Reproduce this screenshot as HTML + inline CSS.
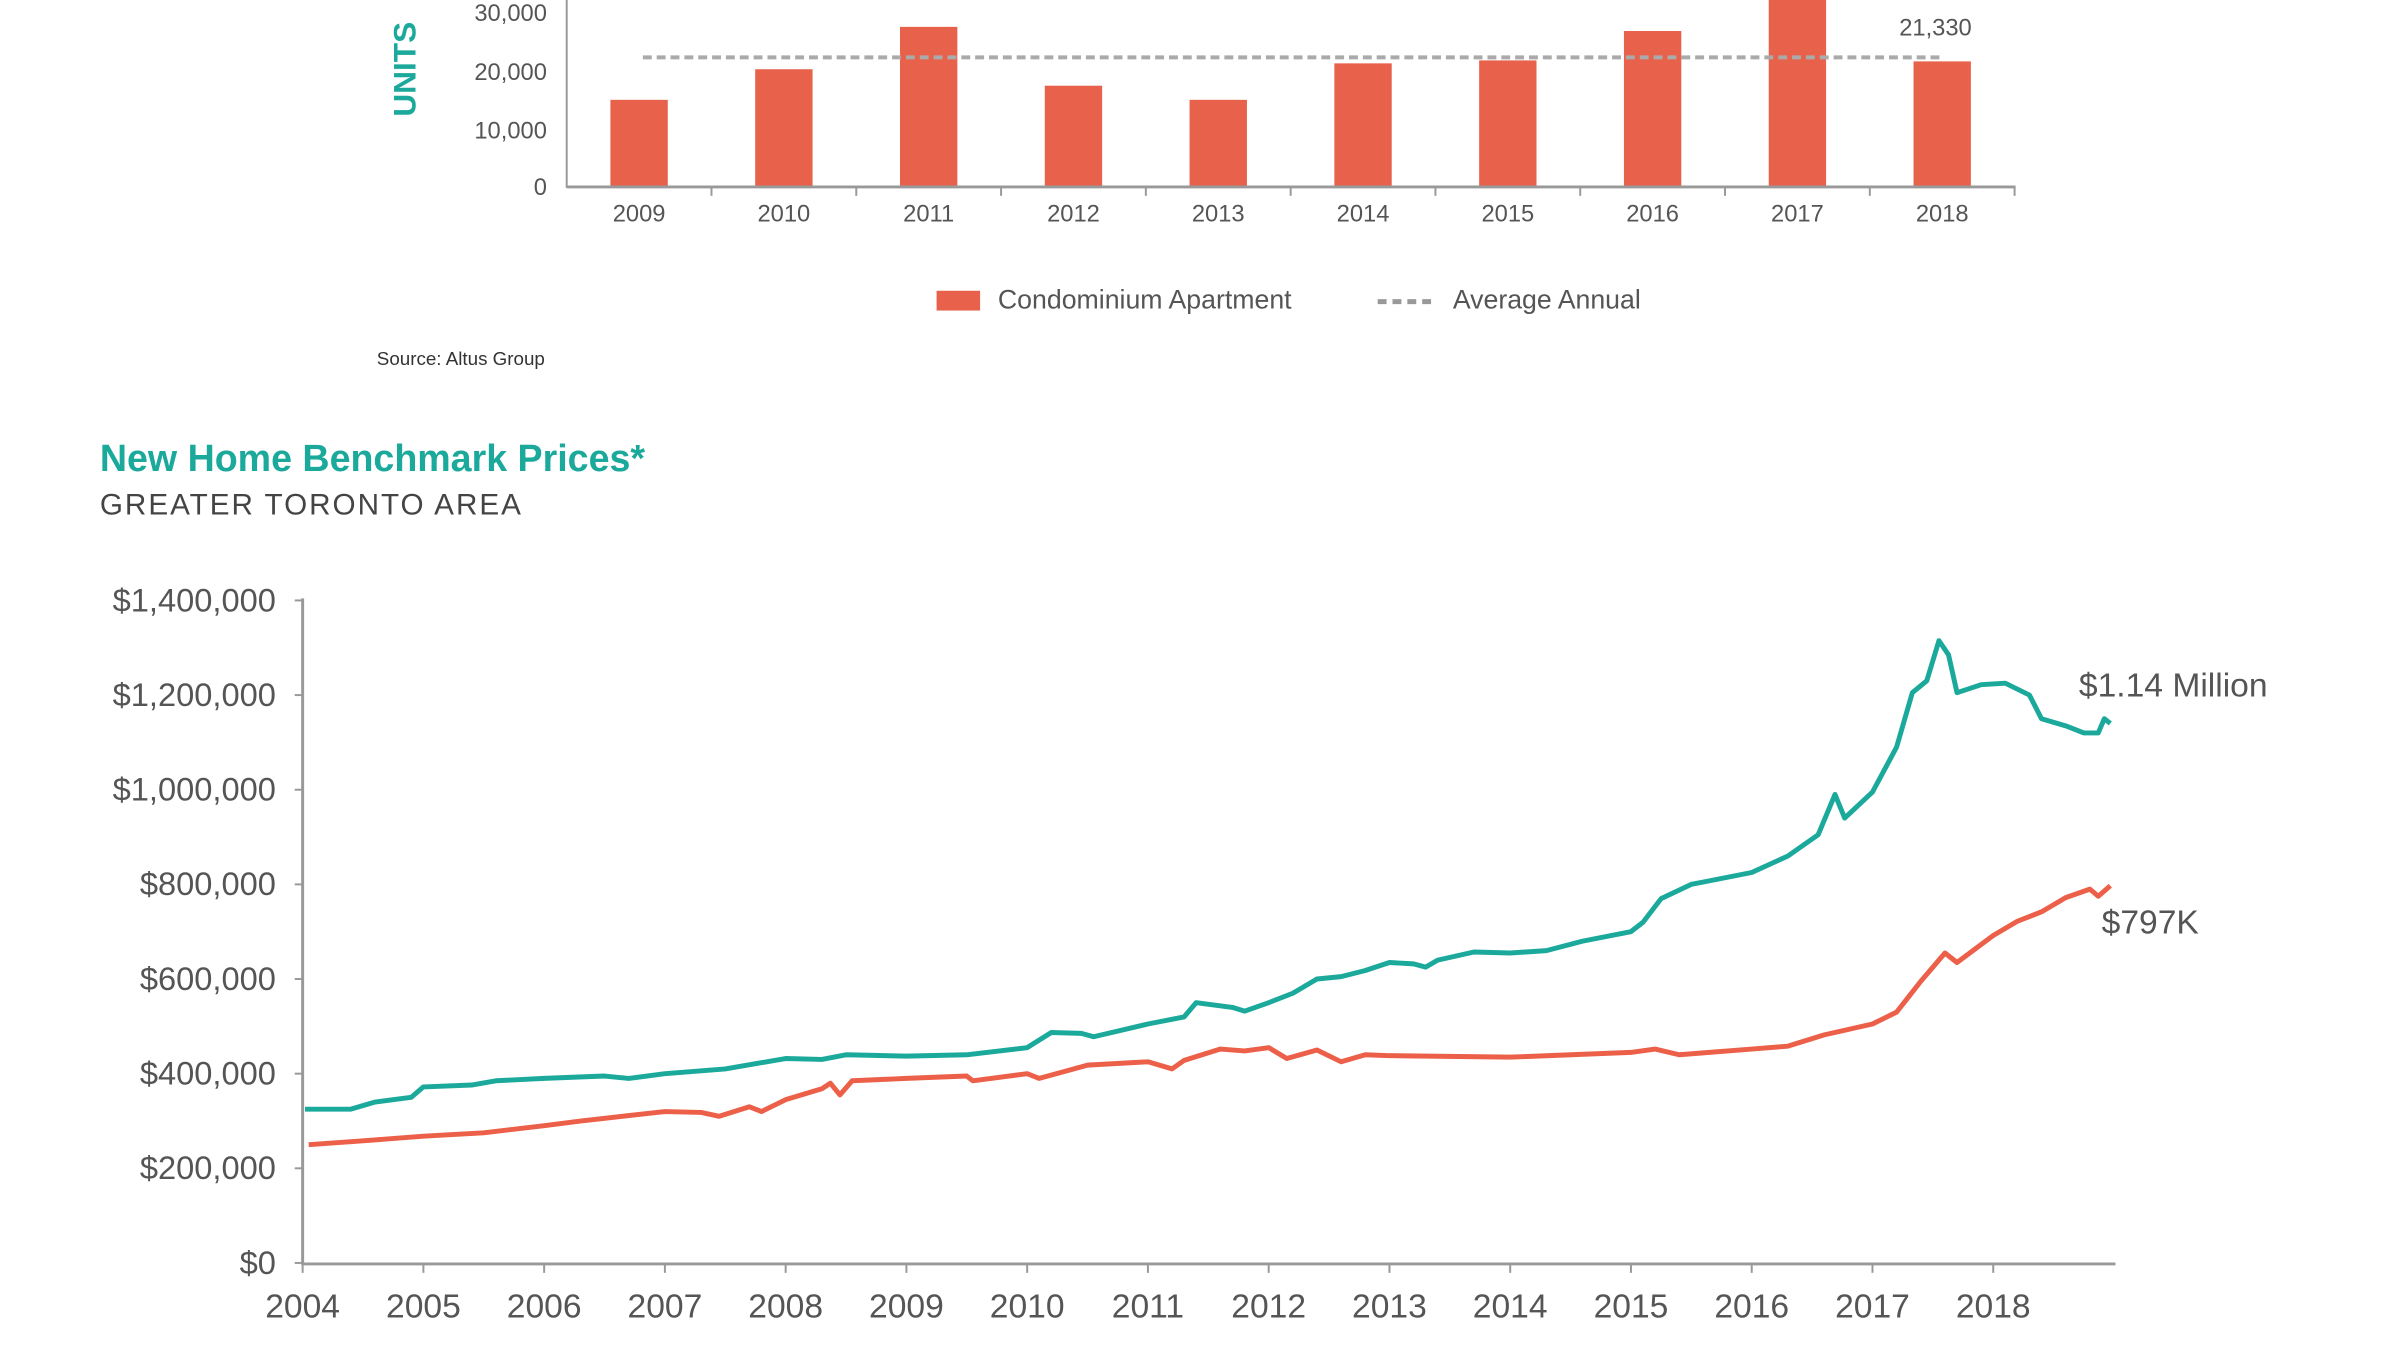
<!DOCTYPE html>
<html><head><meta charset="utf-8"><style>
html,body{margin:0;padding:0;background:#fff;}
svg{display:block;font-family:"Liberation Sans",sans-serif;}
</style></head><body>
<svg width="2400" height="1350" viewBox="0 0 2400 1350" xmlns="http://www.w3.org/2000/svg">
<rect width="2400" height="1350" fill="#fff"/>
<g transform="scale(0.989)">
<text x="420" y="70" transform="rotate(-90 420 70)" text-anchor="middle" fill="#1aa99a" font-size="32" font-weight="bold">UNITS</text>
<g fill="#555" font-size="24" text-anchor="end">
<text x="553" y="21">30,000</text><text x="553" y="81">20,000</text><text x="553" y="140">10,000</text><text x="553" y="197">0</text>
</g>
<line x1="573" y1="0" x2="573" y2="190" stroke="#999" stroke-width="2"/>
<g id="bars" fill="#e8614b"></g>
<line x1="573" y1="189" x2="2038" y2="189" stroke="#999" stroke-width="3"/>
<line x1="650" y1="58" x2="1966" y2="58" stroke="#aaa" stroke-width="4" stroke-dasharray="9,5"/>
<text x="1957" y="36" text-anchor="middle" fill="#555" font-size="24">21,330</text>
<g id="byears" fill="#555" font-size="24" text-anchor="middle"></g>
<rect x="947" y="294" width="44" height="20" fill="#e8614b"/>
<text x="1009" y="312" fill="#555" font-size="27">Condominium Apartment</text>
<line x1="1393" y1="305" x2="1452" y2="305" stroke="#999" stroke-width="5" stroke-dasharray="9,6"/>
<text x="1469" y="312" fill="#555" font-size="27">Average Annual</text>
<text x="381" y="369" fill="#333" font-size="19">Source: Altus Group</text>
<text x="101" y="476" fill="#1aa99a" font-size="38" font-weight="bold">New Home Benchmark Prices*</text>
<text x="101" y="520" fill="#444" font-size="30" letter-spacing="2">GREATER TORONTO AREA</text>
<g id="ylab" fill="#555" font-size="33" text-anchor="end"></g>
<line x1="306" y1="605" x2="306" y2="1279" stroke="#999" stroke-width="3"/>
<line x1="306" y1="1278" x2="2139" y2="1278" stroke="#999" stroke-width="3"/>
<g id="xlab" fill="#555" font-size="34" text-anchor="middle"></g>
<polyline id="teal" fill="none" stroke="#1aa99a" stroke-width="5" stroke-linejoin="round"/>
<polyline id="red" fill="none" stroke="#ec5f48" stroke-width="5" stroke-linejoin="round"/>
<text x="2102" y="704" fill="#555" font-size="34">$1.14 Million</text>
<text x="2125" y="944" fill="#555" font-size="34">$797K</text>
</g>
</svg>
<script>
var NS="http://www.w3.org/2000/svg";
function el(p,t,a,txt){var e=document.createElementNS(NS,t);for(var k in a)e.setAttribute(k,a[k]);if(txt!==undefined)e.textContent=txt;document.getElementById(p).appendChild(e);}
var vals=[14800,20000,27200,17200,14800,21000,21500,26500,40000,21330];
for(var i=0;i<10;i++){var cx=573+146.4*(i+0.5);var bt=189-vals[i]*0.00595;if(bt<0)bt=0;
el("bars","rect",{x:cx-29,y:bt,width:58,height:189-bt});
el("byears","text",{x:cx,y:224},""+(2009+i));
el("bars","line",{x1:573+146.4*(i+1),y1:189,x2:573+146.4*(i+1),y2:198,stroke:"#999","stroke-width":2});}
var yl=["$0","$200,000","$400,000","$600,000","$800,000","$1,000,000","$1,200,000","$1,400,000"];
for(var i=0;i<8;i++){var y=1277-i*95.7;el("ylab","text",{x:279,y:y+11},yl[i]);el("ylab","line",{x1:298,y1:y,x2:306,y2:y,stroke:"#999","stroke-width":2});}
for(var i=0;i<15;i++){var x=306+i*122.1;el("xlab","text",{x:x,y:1332},""+(2004+i));el("xlab","line",{x1:x,y1:1278,x2:x,y2:1287,stroke:"#999","stroke-width":2});}
function pts(d){return d.map(function(p){return (306+(p[0]-2004)*122.1).toFixed(1)+","+(1277-p[1]*0.4785).toFixed(1);}).join(" ");}
var teal=[[2004.02,325],[2004.4,325],[2004.6,340],[2004.9,350],[2005.0,372],[2005.4,376],[2005.6,385],[2006,390],[2006.5,395],[2006.7,390],[2007,400],[2007.5,410],[2008,432],[2008.3,430],[2008.5,440],[2009,437],[2009.5,440],[2010,455],[2010.2,487],[2010.45,485],[2010.55,478],[2011,505],[2011.3,520],[2011.4,550],[2011.7,540],[2011.8,532],[2012,550],[2012.2,570],[2012.4,600],[2012.6,605],[2012.8,618],[2013,635],[2013.2,632],[2013.3,625],[2013.4,640],[2013.7,657],[2014,655],[2014.3,660],[2014.6,680],[2015,700],[2015.1,720],[2015.25,770],[2015.5,800],[2015.6,805],[2016,825],[2016.3,860],[2016.55,905],[2016.69,990],[2016.77,940],[2017,995],[2017.2,1090],[2017.33,1205],[2017.45,1230],[2017.55,1315],[2017.63,1285],[2017.7,1205],[2017.9,1222],[2018.1,1225],[2018.3,1200],[2018.4,1150],[2018.6,1135],[2018.75,1120],[2018.87,1120],[2018.92,1150],[2018.97,1140]];
var red=[[2004.05,250],[2004.5,258],[2005,268],[2005.5,275],[2006,290],[2006.3,300],[2007,320],[2007.3,318],[2007.45,310],[2007.7,330],[2007.8,320],[2008,345],[2008.3,368],[2008.37,380],[2008.45,355],[2008.55,385],[2009,390],[2009.5,395],[2009.55,385],[2010,400],[2010.1,390],[2010.5,418],[2011,425],[2011.2,410],[2011.3,428],[2011.6,452],[2011.8,448],[2012,455],[2012.15,432],[2012.4,450],[2012.6,425],[2012.8,440],[2013,438],[2014,435],[2015,445],[2015.2,452],[2015.4,440],[2016,452],[2016.3,458],[2016.6,482],[2017,505],[2017.2,530],[2017.4,595],[2017.6,655],[2017.7,635],[2018,692],[2018.2,722],[2018.4,742],[2018.6,772],[2018.8,790],[2018.87,775],[2018.97,797]];
document.getElementById("teal").setAttribute("points",pts(teal));
document.getElementById("red").setAttribute("points",pts(red));
</script>
</body></html>
